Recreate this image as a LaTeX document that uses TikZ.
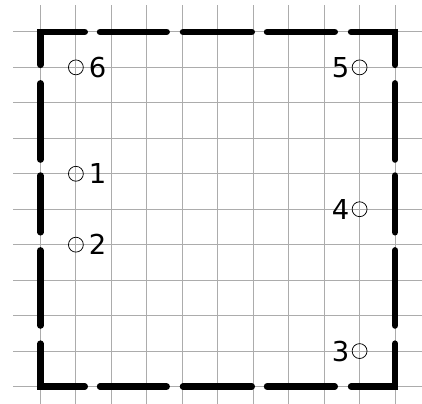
\documentclass[tikz,border=0pt]{standalone}
\usepackage{fontspec}
\setmainfont{DejaVu Sans}
\usepackage{tikz}
\usetikzlibrary{positioning}

\tikzset{
  border/.style={line width=5.2pt, line cap=round},
  gridline/.style={gray!65, line width=0.7pt},
  pt/.style={circle, draw, minimum size=0.42cm, inner sep=0pt, line width=0.6pt},
  lbl/.style={inner sep=0pt, font=\fontsize{22}{26}\selectfont}
}

\begin{document}
\begin{tikzpicture}
    \useasboundingbox (-1.14,-0.48) rectangle (10.76,10.9);
    % Grid
    \foreach \k in {0,...,10} {
      \draw[gridline] (\k,-0.8) -- (\k,10.76);
      \draw[gridline] (-0.76,\k) -- (10.8,\k);
    }
    % Corners of the border
    \draw[border] (0,9.07) -- (0,10) -- (1.25,10);
    \draw[border] (8.76,10) -- (10,10) -- (10,9.07);
    \draw[border] (10,1.21) -- (10,0) -- (8.76,0);
    \draw[border] (1.25,0) -- (0,0) -- (0,1.21);
    % Dashes along the sides
    \foreach \a/\b in {1.68/3.56,4.02/5.96,6.39/8.3} {
      \draw[border] (\a,10) -- (\b,10);
      \draw[border] (\a,0) -- (\b,0);
    }
    \foreach \a/\b in {1.72/3.84,4.35/5.95,6.40/8.55} {
      \draw[border] (0,\a) -- (0,\b);
      \draw[border] (10,\a) -- (10,\b);
    }
    % Points on the left
    \node[pt] (p6) at (1,9) {};
    \node[lbl, right=0.14 of p6] (l6) {6};
    \node[pt] (p1) at (1,6) {};
    \node[lbl, right=0.14 of p1] (l1) {1};
    \node[pt] (p2) at (1,4) {};
    \node[lbl, right=0.14 of p2] (l2) {2};
    % Points on the right
    \node[pt] (p5) at (9,9) {};
    \node[lbl, left=0.06 of p5] (l5) {5};
    \node[pt] (p4) at (9,5) {};
    \node[lbl, left=0.06 of p4] (l4) {4};
    \node[pt] (p3) at (9,1) {};
    \node[lbl, left=0.06 of p3] (l3) {3};
\end{tikzpicture}
\end{document}
